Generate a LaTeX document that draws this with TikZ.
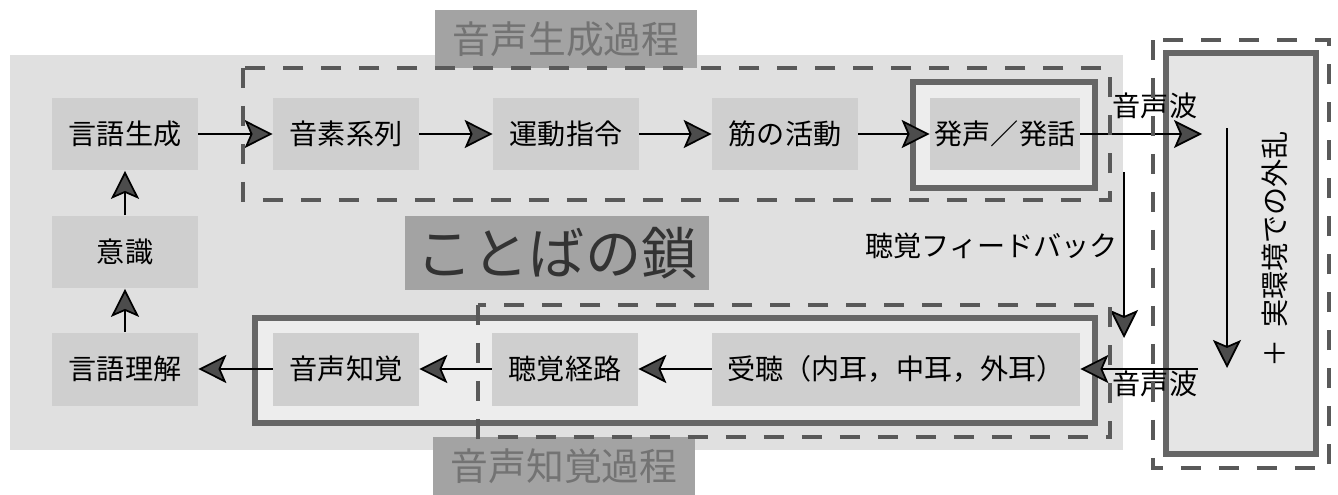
\documentclass[tikz,border=0pt]{standalone}
\usepackage{fontspec}
\setmainfont{Noto Sans CJK JP}
\usetikzlibrary{arrows.meta}

\begin{document}
\begin{tikzpicture}[x = 0.02cm, y = -0.02cm,
	> = {Stealth[length = 0.56cm, width = 0.56cm, inset = 0.12cm, fill = black!70]},
	stage/.style = {fill = black!19, minimum width = 2.92cm, minimum height = 1.46cm, inner sep = 0pt, font = \fontsize{16}{18}\selectfont},
	heading/.style = {fill = black!36, text = black!55, inner sep = 0pt, font = \fontsize{21.5}{24}\selectfont},
	note/.style = {inner sep = 0pt, font = \fontsize{16}{18}\selectfont},
	region/.style = {draw = black!65, line width = 2.8pt, dash pattern = on 0.4cm off 0.36cm},
	solidbox/.style = {draw = black!60, line width = 3.4pt},
	flow/.style = {->, line width = 1pt}]

	\useasboundingbox (0, 0) rectangle (1338, 494);

	% Draw background and regions
	
	\fill [black!12] (10, 55) rectangle (1123, 450);
	\draw [solidbox, fill = black!7] (913, 82) rectangle (1095, 188);
	\draw [solidbox, fill = black!7] (255, 318) rectangle (1095, 423);
	\draw [solidbox, fill = black!10] (1166, 53) rectangle (1316, 454);
	
	% Draw headings
	
	\node [heading, minimum width = 5.24cm, minimum height = 1.16cm] (prodhead) at (566, 39) {音声生成過程};
	\node [heading, minimum width = 5.24cm, minimum height = 1.18cm] (perchead) at (564, 466) {音声知覚過程};
	\node [heading, text = black!80, minimum width = 6.1cm, minimum height = 1.48cm, font = \fontsize{32}{36}\selectfont] (chain) at (557, 253) {ことばの鎖};
	
	% Draw stages
	
	\node [stage] (gen)   at (125, 134) {言語生成};
	\node [stage] (cons)  at (125, 252) {意識};
	\node [stage] (und)   at (125, 369) {言語理解};
	\node [stage] (phon)  at (346, 134) {音素系列};
	\node [stage] (motor) at (566, 134) {運動指令};
	\node [stage] (musc)  at (785, 134) {筋の活動};
	\node [stage, minimum width = 3cm] (voice) at (1005, 134) {発声／発話};
	\node [stage] (perc)  at (346, 369) {音声知覚};
	\node [stage] (path)  at (565, 369) {聴覚経路};
	\node [stage, minimum width = 7.36cm] (recv) at (896, 369) {受聴（内耳，中耳，外耳）};
	
	% Draw labels
	
	\node [note] (wavea) at (1155, 106) {音声波};
	\node [note] (waveb) at (1155, 384) {音声波};
	\node [note, anchor = east] (feedback) at (1118, 246) {聴覚フィードバック};
	\node [note, rotate = 90] (noise) at (1275, 249) {＋\hspace{0.4em}実環境での外乱};
	
	\coordinate (outa) at (1202, 134);
	\coordinate (inb)  at (1198, 369);
	\coordinate (fbtop) at (1124, 172);
	\coordinate (fbend) at (1124, 338);
	\coordinate (envtop) at (1227, 128);
	\coordinate (envend) at (1227, 368);
	
	% Draw connectors
	
	\draw [flow] (gen) -- (phon);
	\draw [flow] (phon) -- (motor);
	\draw [flow] (motor) -- (musc);
	\draw [flow] (musc) -- (voice);
	\draw [flow] (voice) -- (outa);
	\draw [flow] (fbtop) -- (fbend);
	\draw [flow] (envtop) -- (envend);
	\draw [flow] (inb) -- (recv);
	\draw [flow] (recv) -- (path);
	\draw [flow] (path) -- (perc);
	\draw [flow] (perc) -- (und);
	\draw [flow] (und) -- (cons);
	\draw [flow] (cons) -- (gen);
	
	% Draw dashed regions
	
	\draw [region] (243, 68) rectangle (1110, 200);
	\draw [region] (478, 305) rectangle (1110, 437);
	\draw [region] (1153, 40) rectangle (1329, 468);
	
\end{tikzpicture}
\end{document}
